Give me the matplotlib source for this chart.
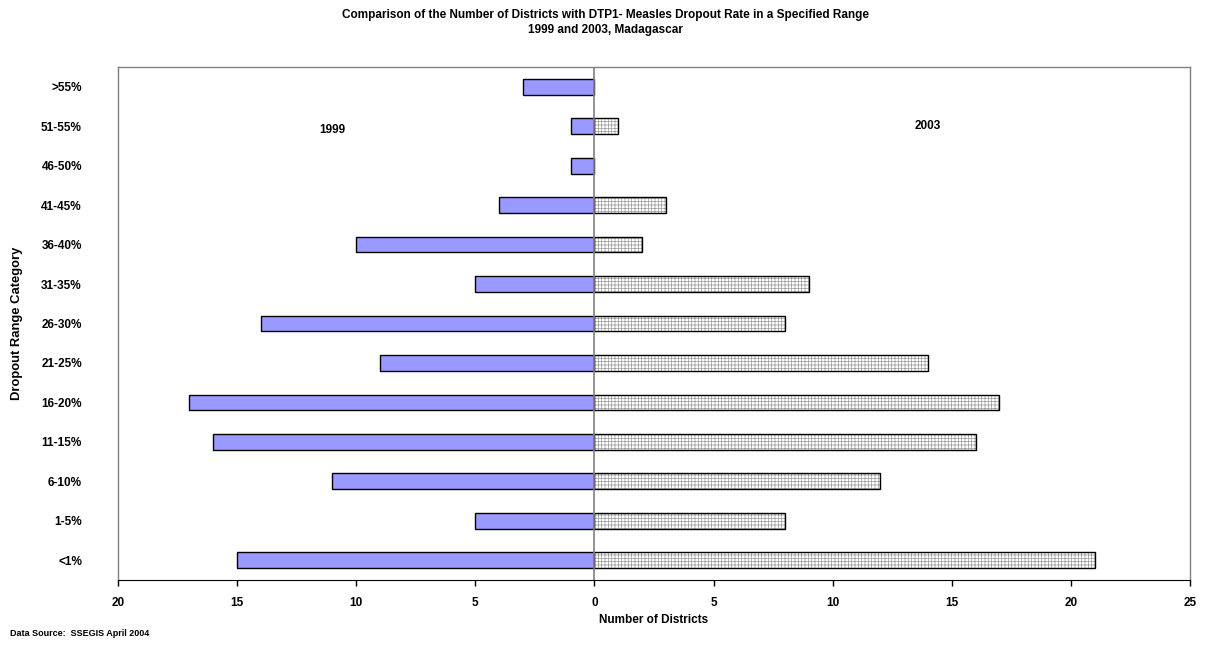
import matplotlib
matplotlib.use("Agg")
import matplotlib.pyplot as plt
import numpy as np

plt.rcParams['font.family'] = ['Liberation Sans', 'DejaVu Sans']
plt.rcParams['hatch.linewidth'] = 0.5

categories = ['<1%', '1-5%', '6-10%', '11-15%', '16-20%', '21-25%', '26-30%',
              '31-35%', '36-40%', '41-45%', '46-50%', '51-55%', '>55%']
districts_1999 = [15, 5, 11, 16, 17, 9, 14, 5, 10, 4, 1, 1, 3]
districts_2003 = [21, 8, 12, 16, 17, 14, 8, 9, 2, 3, 0, 1, 0]
x_ticks = [-20, -15, -10, -5, 0, 5, 10, 15, 20, 25]

fig = plt.figure(figsize=(12.10, 6.49), dpi=100)
ax = fig.add_axes([118/1210, 1 - 580/649, (1190-118)/1210, (580-67)/649])

y = np.arange(len(categories))
ax.barh(y, [-v for v in districts_1999], height=0.4, color='#9999FF',
        edgecolor='black', linewidth=1.0, zorder=2)
# 2003 bars: fine gray grid fill, outlined in black on top
bars03 = ax.barh(y, districts_2003, height=0.4, color='white', hatch='+++++',
                 edgecolor='#9a9a9a', linewidth=0, zorder=2)
for rect in bars03:
    if rect.get_width() > 0:
        ax.add_patch(plt.Rectangle(rect.get_xy(), rect.get_width(), rect.get_height(),
                                   fill=False, edgecolor='black', linewidth=1.0, zorder=3))

ax.axvline(0, color='#808080', linewidth=1.2, zorder=4)

ax.set_xlim(-20, 25)
ax.set_ylim(-0.5, len(categories) - 0.5)
ax.set_xticks(x_ticks)
ax.set_xticklabels([str(abs(t)) for t in x_ticks], fontsize=8.5, fontweight='bold')
ax.set_yticks(y)
ax.set_yticklabels(categories, fontsize=8.5, fontweight='bold')
ax.tick_params(axis='y', length=0, pad=26)
ax.tick_params(axis='x', direction='out', length=4, width=1, pad=8)

for side in ['left', 'top', 'right']:
    ax.spines[side].set_color('#808080')
    ax.spines[side].set_linewidth(1.0)
ax.spines['bottom'].set_color('black')

ax.set_xlabel('Number of Districts', fontsize=8.5, fontweight='bold', labelpad=4)
ax.set_ylabel('Dropout Range Category', fontsize=9.4, fontweight='bold', labelpad=13)

ax.text(-11, 10.9, '1999', fontsize=8.5, fontweight='bold', ha='center', va='center')
ax.text(14, 11.0, '2003', fontsize=8.5, fontweight='bold', ha='center', va='center')

fig.text(605/1210, 1 - 15/649,
         'Comparison of the Number of Districts with DTP1- Measles Dropout Rate in a Specified Range',
         fontsize=8.5, fontweight='bold', ha='center', va='center')
fig.text(605/1210, 1 - 30/649, '1999 and 2003, Madagascar',
         fontsize=8.5, fontweight='bold', ha='center', va='center')
fig.text(10/1210, 1 - 634/649, 'Data Source:  SSEGIS April 2004',
         fontsize=6.5, fontweight='bold', ha='left', va='center')

fig.savefig('out.png', dpi=100)
